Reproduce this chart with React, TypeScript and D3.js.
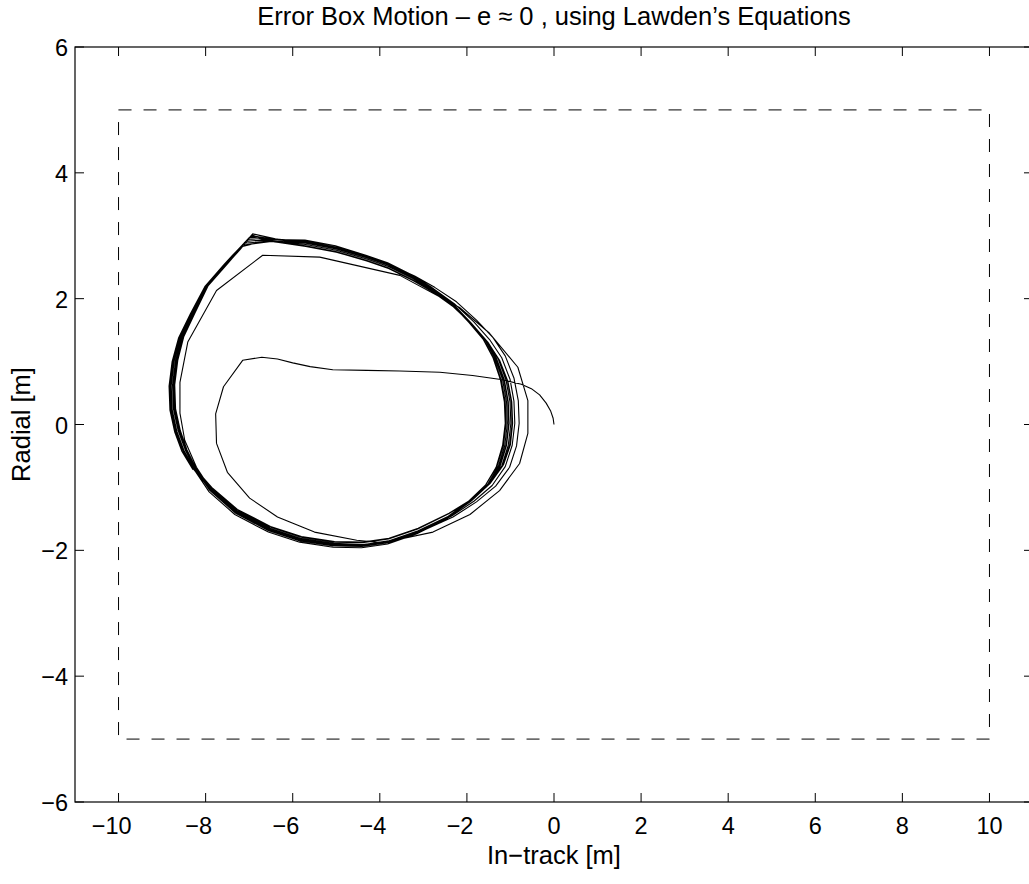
import React from "react";
import * as d3 from "d3";

const TITLE = "Error Box Motion \u2013 e \u2248 0 , using Lawden\u2019s Equations";
const X_LABEL = "In\u2212track [m]";
const Y_LABEL = "Radial [m]";
const X_DOMAIN: [number, number] = [-11, 11];
const Y_DOMAIN: [number, number] = [-6, 6];
const X_TICKS = [-10, -8, -6, -4, -2, 0, 2, 4, 6, 8, 10];
const Y_TICKS = [-6, -4, -2, 0, 2, 4, 6];

// error box (dashed)
const BOX: [number, number][] = [[-10, 5], [10, 5], [10, -5], [-10, -5], [-10, 5]];

type P = [number, number];

// trajectory: start + first revolution
const transient: P[] = [
  [0.0, 0.0], [-0.02, 0.1], [-0.08, 0.22], [-0.18, 0.34], [-0.33, 0.47], [-0.52, 0.57],
  [-0.75, 0.64], [-1.18, 0.71], [-1.87, 0.78], [-2.62, 0.83], [-3.54, 0.85], [-4.3, 0.86],
  [-5.08, 0.87], [-5.6, 0.92], [-6.0, 0.98], [-6.35, 1.04], [-6.71, 1.07], [-7.15, 1.02],
  [-7.59, 0.6], [-7.77, 0.17], [-7.75, -0.3], [-7.5, -0.76], [-6.99, -1.17], [-6.35, -1.47],
  [-5.5, -1.71], [-4.53, -1.84], [-3.93, -1.88], [-2.78, -1.71], [-1.93, -1.43], [-1.25, -1.05],
  [-0.79, -0.62], [-0.6, -0.14], [-0.6, 0.38], [-0.83, 0.91], [-1.48, 1.45], [-2.17, 1.86],
  [-3.54, 2.37], [-5.38, 2.66], [-6.69, 2.69], [-7.75, 2.13], [-8.41, 1.31], [-8.59, 0.67],
  [-8.59, 0.18], [-8.48, -0.25], [-8.21, -0.68],
];

const loopB: P[] = [
  [-7.9, -1.01], [-7.28, -1.38], [-6.52, -1.65], [-5.83, -1.81], [-5.06, -1.89], [-4.4, -1.91],
  [-3.78, -1.86], [-3.08, -1.71], [-2.32, -1.47], [-1.78, -1.23], [-1.34, -0.98], [-1.02, -0.68],
  [-0.86, -0.34], [-0.8, 0.02], [-0.82, 0.38], [-0.92, 0.74], [-1.12, 1.09], [-1.4, 1.38],
  [-1.78, 1.66], [-2.24, 1.95], [-2.74, 2.18], [-3.2, 2.36], [-3.77, 2.54], [-4.28, 2.66],
  [-4.99, 2.8], [-5.7, 2.88], [-6.4, 2.95], [-6.92, 3.03], [-7.22, 2.79], [-7.48, 2.59],
  [-7.95, 2.22], [-8.26, 1.79], [-8.52, 1.4], [-8.67, 1.02], [-8.74, 0.63], [-8.72, 0.25],
  [-8.62, -0.1], [-8.46, -0.4], [-8.23, -0.7],
];

const loopC: P[] = [
  [-7.89, -1.02], [-7.29, -1.39], [-6.53, -1.66], [-5.83, -1.82], [-5.05, -1.9], [-4.4, -1.91],
  [-3.79, -1.85], [-3.1, -1.7], [-2.36, -1.46], [-1.84, -1.22], [-1.42, -0.97], [-1.12, -0.67],
  [-0.96, -0.33], [-0.9, 0.02], [-0.92, 0.37], [-1.01, 0.72], [-1.2, 1.06], [-1.48, 1.35],
  [-1.84, 1.63], [-2.29, 1.92], [-2.77, 2.16], [-3.22, 2.34], [-3.79, 2.53], [-4.29, 2.65],
  [-5.0, 2.79], [-5.7, 2.88], [-6.4, 2.94], [-6.95, 3.0], [-7.24, 2.78], [-7.5, 2.58],
  [-7.96, 2.21], [-8.28, 1.78], [-8.54, 1.4], [-8.69, 1.02], [-8.76, 0.63], [-8.74, 0.25],
  [-8.63, -0.1], [-8.47, -0.4], [-8.24, -0.7],
];

const loopK: P[] = [
  [-7.86, -1.0], [-7.27, -1.35], [-6.51, -1.62], [-5.8, -1.78], [-5.04, -1.86], [-4.39, -1.87],
  [-3.79, -1.81], [-3.12, -1.65], [-2.41, -1.41], [-1.87, -1.18], [-1.46, -0.93], [-1.16, -0.64],
  [-1.0, -0.32], [-0.95, 0.02], [-0.97, 0.36], [-1.06, 0.69], [-1.25, 1.02], [-1.51, 1.3],
  [-1.87, 1.58], [-2.31, 1.87], [-2.79, 2.11], [-3.24, 2.29], [-3.8, 2.48], [-4.3, 2.6],
  [-5.0, 2.74], [-5.7, 2.83], [-6.4, 2.9], [-6.94, 3.01], [-7.21, 2.78], [-7.47, 2.58],
  [-7.94, 2.21], [-8.24, 1.78], [-8.5, 1.4], [-8.64, 1.02], [-8.71, 0.63], [-8.69, 0.25],
  [-8.58, -0.1], [-8.43, -0.4], [-8.22, -0.7],
];

const loopD: P[] = [
  [-7.87, -1.01], [-7.28, -1.36], [-6.52, -1.63], [-5.81, -1.79], [-5.05, -1.87], [-4.4, -1.88],
  [-3.8, -1.82], [-3.13, -1.66], [-2.42, -1.42], [-1.88, -1.19], [-1.47, -0.94], [-1.17, -0.65],
  [-1.02, -0.33], [-0.96, 0.02], [-0.98, 0.36], [-1.07, 0.7], [-1.26, 1.03], [-1.52, 1.31],
  [-1.88, 1.59], [-2.32, 1.88], [-2.8, 2.12], [-3.25, 2.3], [-3.81, 2.49], [-4.31, 2.61],
  [-5.01, 2.75], [-5.71, 2.84], [-6.41, 2.9], [-6.97, 2.99], [-7.23, 2.77], [-7.48, 2.57],
  [-7.95, 2.2], [-8.25, 1.77], [-8.51, 1.39], [-8.66, 1.01], [-8.73, 0.62], [-8.71, 0.24],
  [-8.6, -0.11], [-8.45, -0.41], [-8.23, -0.71],
];

const loopE: P[] = [
  [-7.9, -1.04], [-7.31, -1.4], [-6.55, -1.68], [-5.83, -1.84], [-5.06, -1.92], [-4.41, -1.93],
  [-3.81, -1.87], [-3.13, -1.71], [-2.41, -1.47], [-1.91, -1.22], [-1.51, -0.96], [-1.24, -0.67],
  [-1.09, -0.33], [-1.03, 0.02], [-1.05, 0.36], [-1.14, 0.71], [-1.32, 1.05], [-1.56, 1.34],
  [-1.91, 1.62], [-2.34, 1.93], [-2.81, 2.17], [-3.25, 2.36], [-3.8, 2.55], [-4.3, 2.67],
  [-5.0, 2.81], [-5.7, 2.9], [-6.42, 2.95], [-7.0, 2.97], [-7.28, 2.76], [-7.54, 2.57],
  [-8.0, 2.2], [-8.33, 1.77], [-8.59, 1.39], [-8.74, 1.01], [-8.81, 0.62], [-8.79, 0.24],
  [-8.68, -0.11], [-8.52, -0.41], [-8.27, -0.71],
];

const loopF: P[] = [
  [-7.88, -1.02], [-7.29, -1.39], [-6.53, -1.66], [-5.82, -1.82], [-5.05, -1.9], [-4.4, -1.91],
  [-3.8, -1.85], [-3.12, -1.69], [-2.4, -1.45], [-1.89, -1.21], [-1.49, -0.95], [-1.2, -0.66],
  [-1.05, -0.33], [-0.99, 0.02], [-1.01, 0.36], [-1.1, 0.7], [-1.28, 1.04], [-1.54, 1.32],
  [-1.89, 1.6], [-2.33, 1.89], [-2.8, 2.13], [-3.24, 2.32], [-3.8, 2.51], [-4.3, 2.63],
  [-5.0, 2.77], [-5.7, 2.86], [-6.44, 2.91], [-7.04, 2.94], [-7.27, 2.76], [-7.51, 2.57],
  [-7.97, 2.21], [-8.28, 1.78], [-8.54, 1.4], [-8.69, 1.02], [-8.76, 0.63], [-8.74, 0.25],
  [-8.63, -0.1], [-8.47, -0.4], [-8.25, -0.7],
];

const loopG: P[] = [
  [-7.9, -1.05], [-7.31, -1.41], [-6.55, -1.69], [-5.83, -1.85], [-5.06, -1.93], [-4.41, -1.94],
  [-3.81, -1.88], [-3.14, -1.72], [-2.43, -1.48], [-1.94, -1.23], [-1.54, -0.97], [-1.28, -0.67],
  [-1.13, -0.33], [-1.07, 0.02], [-1.09, 0.36], [-1.18, 0.71], [-1.36, 1.06], [-1.59, 1.35],
  [-1.93, 1.63], [-2.35, 1.94], [-2.82, 2.18], [-3.26, 2.37], [-3.81, 2.56], [-4.31, 2.68],
  [-5.01, 2.82], [-5.71, 2.91], [-6.46, 2.95], [-7.08, 2.91], [-7.31, 2.74], [-7.55, 2.56],
  [-8.01, 2.2], [-8.34, 1.77], [-8.6, 1.39], [-8.75, 1.01], [-8.82, 0.62], [-8.8, 0.24],
  [-8.69, -0.11], [-8.53, -0.41], [-8.28, -0.71],
];

const loopH: P[] = [
  [-7.89, -1.03], [-7.3, -1.4], [-6.54, -1.67], [-5.83, -1.83], [-5.06, -1.91], [-4.41, -1.92],
  [-3.81, -1.86], [-3.13, -1.7], [-2.42, -1.46], [-1.92, -1.21], [-1.52, -0.95], [-1.25, -0.66],
  [-1.1, -0.33], [-1.04, 0.02], [-1.06, 0.36], [-1.15, 0.7], [-1.33, 1.04], [-1.57, 1.33],
  [-1.92, 1.61], [-2.34, 1.91], [-2.81, 2.15], [-3.25, 2.34], [-3.8, 2.53], [-4.3, 2.65],
  [-5.0, 2.79], [-5.7, 2.88], [-6.47, 2.92], [-7.12, 2.88], [-7.33, 2.72], [-7.54, 2.56],
  [-7.99, 2.2], [-8.31, 1.77], [-8.57, 1.39], [-8.72, 1.01], [-8.79, 0.62], [-8.77, 0.24],
  [-8.66, -0.11], [-8.5, -0.41], [-8.26, -0.71],
];

const loopI: P[] = [
  [-7.9, -1.04], [-7.31, -1.41], [-6.55, -1.68], [-5.84, -1.84], [-5.07, -1.92], [-4.42, -1.93],
  [-3.82, -1.87], [-3.15, -1.71], [-2.45, -1.47], [-1.96, -1.22], [-1.57, -0.96], [-1.31, -0.67],
  [-1.16, -0.33], [-1.1, 0.02], [-1.12, 0.36], [-1.21, 0.7], [-1.38, 1.05], [-1.61, 1.34],
  [-1.95, 1.62], [-2.36, 1.92], [-2.82, 2.16], [-3.26, 2.35], [-3.81, 2.54], [-4.31, 2.66],
  [-5.01, 2.8], [-5.71, 2.89], [-6.49, 2.91], [-7.16, 2.85], [-7.35, 2.71], [-7.55, 2.56],
  [-8.0, 2.2], [-8.32, 1.77], [-8.58, 1.39], [-8.73, 1.01], [-8.8, 0.62], [-8.78, 0.24],
  [-8.67, -0.11], [-8.51, -0.41], [-8.27, -0.71],
];

const loopJ: P[] = [
  [-7.92, -1.07], [-7.33, -1.43], [-6.56, -1.71], [-5.84, -1.87], [-5.07, -1.95], [-4.42, -1.96],
  [-3.82, -1.9], [-3.16, -1.74], [-2.46, -1.5], [-1.98, -1.24], [-1.59, -0.98], [-1.33, -0.68],
  [-1.18, -0.33], [-1.12, 0.02], [-1.14, 0.36], [-1.23, 0.71], [-1.4, 1.06], [-1.63, 1.36],
  [-1.97, 1.64], [-2.37, 1.95], [-2.83, 2.19], [-3.27, 2.38], [-3.82, 2.57], [-4.32, 2.69],
  [-5.02, 2.84], [-5.72, 2.93], [-6.5, 2.94], [-7.2, 2.82], [-7.38, 2.69], [-7.57, 2.55],
  [-8.02, 2.19], [-8.35, 1.76], [-8.62, 1.38], [-8.77, 1.0], [-8.84, 0.61], [-8.82, 0.23],
  [-8.71, -0.12], [-8.55, -0.42], [-8.29, -0.72],
];

const W = 1029;
const H = 884;
const PLOT = { left: 75, right: 1033, top: 47, bottom: 802 };
const FONT = "'Liberation Sans', Arial, Helvetica, sans-serif";
const TICK_LEN = 9;
const TICK_FS = 23.5;
const LABEL_FS = 25.5;
const DIGIT_EM = 0.556;

const fmt = (v: number) => (v < 0 ? "\u2212" + Math.abs(v) : String(v));
// digits are centred on the tick, the minus sign hangs to the left (MATLAB style)
const digitHalf = (v: number) => (String(Math.abs(v)).length * DIGIT_EM * TICK_FS) / 2;

export default function App() {
  const x = d3.scaleLinear().domain(X_DOMAIN).range([PLOT.left, PLOT.right]);
  const y = d3.scaleLinear().domain(Y_DOMAIN).range([PLOT.bottom, PLOT.top]);
  const line = d3
    .line<P>()
    .x((d) => x(d[0]))
    .y((d) => y(d[1]));
  const trajectory: P[] = [
    ...transient,
    ...loopB,
    ...loopC,
    ...loopK,
    ...loopD,
    ...loopE,
    ...loopF,
    ...loopG,
    ...loopH,
    ...loopI,
    ...loopJ,
  ];
  const cx = (PLOT.left + PLOT.right) / 2;
  const cy = (PLOT.top + PLOT.bottom) / 2;

  return (
    <svg
      width={W}
      height={H}
      style={{ position: "absolute", left: 0, top: 0, background: "#fff" }}
      fontFamily={FONT}
    >
      <rect x={0} y={0} width={W} height={H} fill="#fff" />
      <path
        d={line(BOX) || ""}
        fill="none"
        stroke="#000"
        strokeWidth={1}
        strokeDasharray="13,12"
      />
      <path
        d={line(trajectory) || ""}
        fill="none"
        stroke="#000"
        strokeWidth={1.1}
        strokeLinejoin="round"
      />
      <rect
        x={PLOT.left}
        y={PLOT.top}
        width={PLOT.right - PLOT.left}
        height={PLOT.bottom - PLOT.top}
        fill="none"
        stroke="#000"
        strokeWidth={1.2}
      />
      {X_TICKS.map((t) => (
        <g key={"xt" + t}>
          <line x1={x(t)} x2={x(t)} y1={PLOT.bottom} y2={PLOT.bottom - TICK_LEN} stroke="#000" />
          <line x1={x(t)} x2={x(t)} y1={PLOT.top} y2={PLOT.top + TICK_LEN} stroke="#000" />
          <text
            x={x(t) + digitHalf(t)}
            y={834}
            fontSize={TICK_FS}
            textAnchor="end"
            fill="#000"
          >
            {fmt(t)}
          </text>
        </g>
      ))}
      {Y_TICKS.map((t) => (
        <g key={"yt" + t}>
          <line x1={PLOT.left} x2={PLOT.left + TICK_LEN} y1={y(t)} y2={y(t)} stroke="#000" />
          <line x1={PLOT.right} x2={PLOT.right - TICK_LEN} y1={y(t)} y2={y(t)} stroke="#000" />
          <text x={68} y={y(t) + 9} fontSize={TICK_FS} textAnchor="end" fill="#000">
            {fmt(t)}
          </text>
        </g>
      ))}
      <text x={cx} y={25} fontSize={LABEL_FS} textAnchor="middle" fill="#000">
        {TITLE}
      </text>
      <text x={cx} y={864} fontSize={LABEL_FS} textAnchor="middle" fill="#000">
        {X_LABEL}
      </text>
      <text
        transform={`translate(30,${cy}) rotate(-90)`}
        fontSize={LABEL_FS}
        textAnchor="middle"
        fill="#000"
      >
        {Y_LABEL}
      </text>
    </svg>
  );
}
